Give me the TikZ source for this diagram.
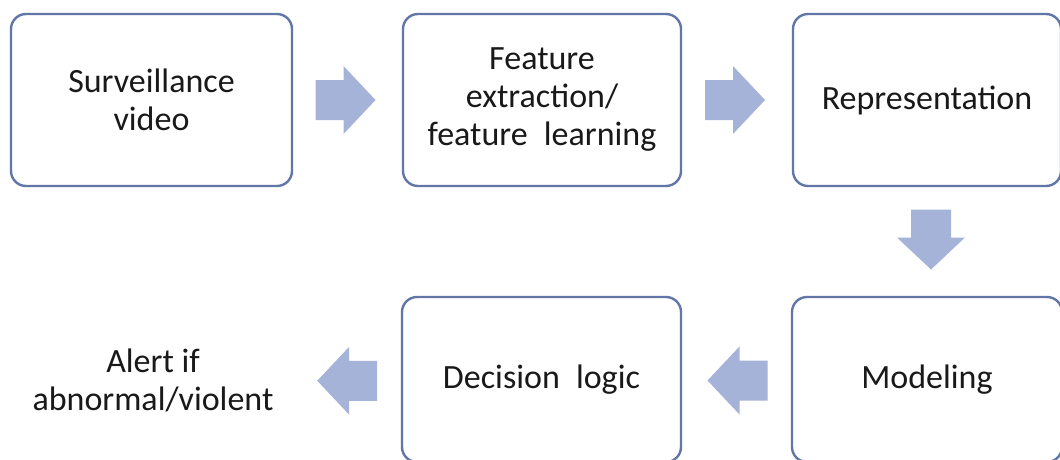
\documentclass[tikz,border=0pt]{standalone}
\usepackage{fontspec}
\setmainfont{Carlito}
\usetikzlibrary{calc}

\definecolor{boxline}{RGB}{98,118,168}
\definecolor{arrowfill}{RGB}{166,179,216}
\definecolor{txt}{RGB}{25,25,25}

\tikzset{
  stagebox/.style={draw=boxline, line width=2.4pt, rounded corners=15pt,
    fill=white, text=txt, align=center, inner sep=0pt,
    font=\fontsize{34}{38}\selectfont},
  blockarrow/.style={fill=arrowfill, draw=none},
  plaintext/.style={text=txt, align=center, inner sep=0pt,
    font=\fontsize{34}{38}\selectfont}
}

% block arrow centred on a named coordinate, pointing along the given angle
\newcommand{\blockarrowat}[2]{%
  \fill[blockarrow, shift={(#1)}, rotate=#2]
    (-30pt,-20pt) -- (-2pt,-20pt) -- (-2pt,-34pt) -- (30pt,0pt)
    -- (-2pt,34pt) -- (-2pt,20pt) -- (-30pt,20pt) -- cycle;}

\begin{document}
\begin{tikzpicture}[x=1pt,y=-1pt]
  \fill[white] (0,0) rectangle (1060,460);
  \useasboundingbox (0,0) rectangle (1060,460);

  % top row
  \node[stagebox, minimum width=281pt, minimum height=172pt] (video) at (151.5,100) {Surveillance\\video};
  \node[stagebox, minimum width=278pt, minimum height=172pt] (feat) at (542,100) {Feature\\extraction/\\feature\hspace{0.25em} learning};
  \node[stagebox, minimum width=268pt, minimum height=172pt] (repr) at (927,100) {Representation};

  % bottom row
  \node[stagebox, minimum width=279pt, minimum height=165pt] (dec) at (541.5,379.5) {Decision\hspace{0.25em} logic};
  \node[stagebox, minimum width=270pt, minimum height=165pt] (model) at (927,379.5) {Modeling};
  \node[plaintext] (alert) at (153,380) {Alert if\\abnormal/violent};

  % block arrows between the stages
  \coordinate (a1) at ($(video.east)!0.5!(feat.west)+(-2,0)$);
  \coordinate (a2) at ($(feat.east)!0.5!(repr.west)+(-2,0)$);
  \coordinate (a3) at ($(repr.south)!0.5!(model.north)+(4,-2)$);
  \coordinate (a4) at ($(dec.east)!0.5!(model.west)+(1,1)$);
  \coordinate (a5) at ($(alert.east)!0.5!(dec.west)+(10,1)$);
  \blockarrowat{a1}{0}
  \blockarrowat{a2}{0}
  \blockarrowat{a3}{-90}
  \blockarrowat{a4}{180}
  \blockarrowat{a5}{180}
\end{tikzpicture}
\end{document}
